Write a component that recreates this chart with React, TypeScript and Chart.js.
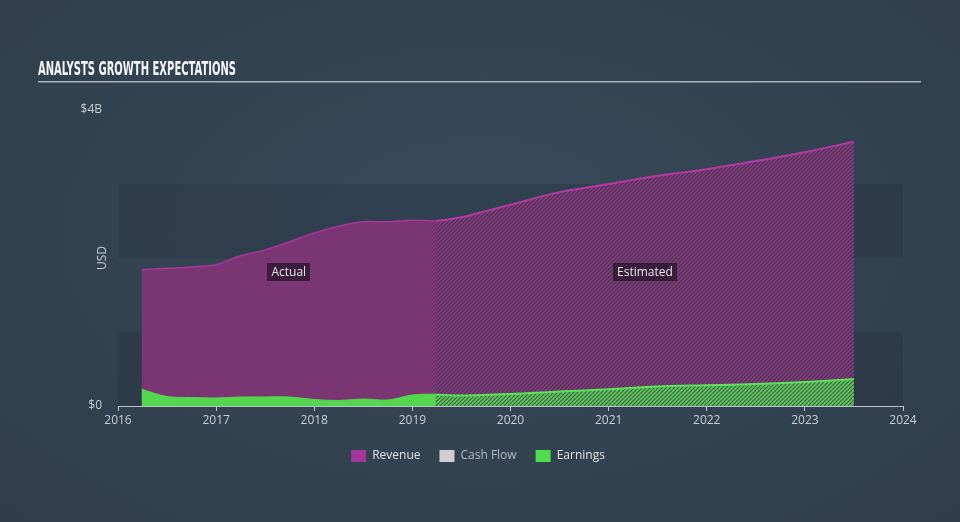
import { useEffect, useRef } from 'react';
import { Chart, registerables } from 'chart.js';

Chart.register(...registerables);

// ---------- data ----------
const TITLE = 'ANALYSTS GROWTH EXPECTATIONS';
const Y_TITLE = 'USD';
const X_MIN = 2016;
const X_MAX = 2024;
const Y_MIN = 0;
const Y_MAX = 4; // billions
const Y_TICK_VALUES = [0, 4];
const BAND_RANGES = [[0, 1], [2, 3]]; // darker horizontal bands (billions)
const PERIOD_LABELS = ['Actual', 'Estimated'];

// quarter-end dates as decimal years
const actualDates = [2016.24, 2016.5, 2016.75, 2017, 2017.25, 2017.5, 2017.75, 2018, 2018.25, 2018.5, 2018.75, 2019, 2019.24];
const actualRevenue = [1.84, 1.86, 1.88, 1.91, 2.03, 2.11, 2.22, 2.34, 2.43, 2.49, 2.49, 2.51, 2.50];
const actualEarnings = [0.226, 0.128, 0.115, 0.108, 0.122, 0.122, 0.122, 0.088, 0.074, 0.095, 0.081, 0.149, 0.162];

const estimateDates = [2019.24, 2019.5, 2020, 2020.5, 2021, 2021.5, 2022, 2022.5, 2023, 2023.5];
const estimateRevenue = [2.50, 2.55, 2.72, 2.89, 3.00, 3.11, 3.20, 3.31, 3.43, 3.57];
const estimateEarnings = [0.155, 0.142, 0.162, 0.196, 0.226, 0.264, 0.28, 0.297, 0.324, 0.365];

const legendNames = ['Revenue', 'Cash Flow', 'Earnings'];
const legendColors = ['#a3379a', '#cfcfcf', '#50dd4d'];
const legendTextColors = ['#dfe3e7', '#b3bac1', '#dfe3e7'];

// ---------- helpers ----------
const pts = (xs: number[], ys: number[]) => xs.map((x, i) => ({ x, y: ys[i] }));

function makeHatch(base: string, stripe: string, size = 4, width = 1.6) {
  const c = document.createElement('canvas');
  c.width = size;
  c.height = size;
  const g = c.getContext('2d')!;
  g.fillStyle = base;
  g.fillRect(0, 0, size, size);
  g.strokeStyle = stripe;
  g.lineWidth = width;
  g.beginPath();
  g.moveTo(0, size);
  g.lineTo(size, 0);
  g.moveTo(-1, 1);
  g.lineTo(1, -1);
  g.moveTo(size - 1, size + 1);
  g.lineTo(size + 1, size - 1);
  g.stroke();
  return g.createPattern(c, 'repeat')!;
}

const FONT = '"Open Sans", "DejaVu Sans", sans-serif';

const decorPlugin = {
  id: 'decor',
  beforeDraw(chart: any) {
    const { ctx, chartArea, scales } = chart;
    const y = scales.y;
    ctx.save();
    // bands
    ctx.fillStyle = 'rgba(20, 30, 40, 0.15)';
    BAND_RANGES.forEach(([a, b]) => {
      const top = y.getPixelForValue(b);
      const bot = y.getPixelForValue(a);
      ctx.fillRect(chartArea.left, top, chartArea.right - chartArea.left, bot - top);
    });
    // title
    ctx.fillStyle = '#f2f4f6';
    ctx.font = 'bold 20px "DejaVu Sans Condensed", "DejaVu Sans", sans-serif';
    ctx.textBaseline = 'alphabetic';
    ctx.textAlign = 'left';
    const w = ctx.measureText(TITLE).width;
    ctx.save();
    ctx.translate(38, 75);
    ctx.scale(198 / w, 1);
    ctx.fillText(TITLE, 0, 0);
    ctx.restore();
    // underline
    ctx.fillStyle = '#a9b3bc';
    ctx.fillRect(38, 81, 883, 1.5);
    // y title
    ctx.save();
    ctx.translate(103, (chartArea.top + chartArea.bottom) / 2);
    ctx.rotate(-Math.PI / 2);
    ctx.fillStyle = '#c6ccd2';
    ctx.font = `12px ${FONT}`;
    ctx.textAlign = 'center';
    ctx.textBaseline = 'middle';
    ctx.fillText(Y_TITLE, 0, 0);
    ctx.restore();
    ctx.restore();
  },
  afterDatasetsDraw(chart: any) {
    const { ctx, scales } = chart;
    const xs = scales.x;
    const ys = scales.y;
    const ranges = [
      [actualDates[0], actualDates[actualDates.length - 1]],
      [estimateDates[0], estimateDates[estimateDates.length - 1]],
    ];
    ctx.save();
    ctx.font = `12px ${FONT}`;
    ctx.textAlign = 'center';
    ctx.textBaseline = 'middle';
    PERIOD_LABELS.forEach((label, i) => {
      const cx = (xs.getPixelForValue(ranges[i][0]) + xs.getPixelForValue(ranges[i][1])) / 2;
      const cy = ys.getPixelForValue(1.81);
      const tw = ctx.measureText(label).width;
      ctx.fillStyle = 'rgba(22, 16, 28, 0.62)';
      ctx.fillRect(Math.round(cx - tw / 2 - 4), Math.round(cy - 9), Math.round(tw + 8), 18);
      ctx.fillStyle = '#e6e6ea';
      ctx.fillText(label, cx, cy + 0.5);
    });
    ctx.restore();
  },
  afterDraw(chart: any) {
    const { ctx } = chart;
    ctx.save();
    ctx.font = `12px ${FONT}`;
    ctx.textBaseline = 'middle';
    ctx.textAlign = 'left';
    const box = 15;
    const gap = 6;
    const between = 19;
    const widths = legendNames.map((n) => ctx.measureText(n).width);
    const total = widths.reduce((s, w) => s + box + gap + w, 0) + between * (legendNames.length - 1);
    let x = 478 - total / 2;
    const cy = 456;
    legendNames.forEach((n, i) => {
      ctx.fillStyle = legendColors[i];
      ctx.fillRect(x, cy - 6, box, 12);
      ctx.fillStyle = legendTextColors[i];
      ctx.fillText(n, x + box + gap, cy);
      x += box + gap + widths[i] + between;
    });
    ctx.restore();
  },
};

export default function App() {
  const ref = useRef<HTMLCanvasElement | null>(null);

  useEffect(() => {
    const canvas = ref.current;
    if (!canvas) return;
    const revenueHatch = makeHatch('#3e3349', '#8e3b86');
    const earningsHatch = makeHatch('#3f5a4b', '#5fcf59');

    const chart = new Chart(canvas, {
      type: 'line',
      data: {
        datasets: [
          {
            label: 'Earnings (estimate)',
            data: pts(estimateDates, estimateEarnings),
            fill: 'origin',
            backgroundColor: earningsHatch,
            borderColor: '#5be257',
            borderWidth: 2,
            pointRadius: 0,
            tension: 0.3,
          },
          {
            label: 'Earnings',
            data: pts(actualDates, actualEarnings),
            fill: 'origin',
            backgroundColor: '#55d64f',
            borderColor: '#55d64f',
            borderWidth: 1,
            pointRadius: 0,
            tension: 0.35,
          },
          {
            label: 'Revenue (estimate)',
            data: pts(estimateDates, estimateRevenue),
            fill: 'origin',
            backgroundColor: revenueHatch,
            borderColor: '#b33aa3',
            borderWidth: 2,
            pointRadius: 0,
            tension: 0.3,
          },
          {
            label: 'Revenue',
            data: pts(actualDates, actualRevenue),
            fill: 'origin',
            backgroundColor: '#7a3672',
            borderColor: '#a8379c',
            borderWidth: 1.5,
            pointRadius: 0,
            tension: 0.3,
          },
        ],
      },
      options: {
        responsive: false,
        animation: false,
        devicePixelRatio: 1,
        layout: { padding: { top: 110, right: 57, bottom: 0, left: 0 } },
        plugins: {
          legend: { display: false },
          tooltip: { enabled: false },
          title: { display: false },
        },
        scales: {
          x: {
            type: 'linear',
            min: X_MIN,
            max: X_MAX,
            afterFit: (s: any) => { s.height = 116; },
            border: { display: true, color: '#b9c2cb', width: 1 },
            grid: { drawOnChartArea: false, drawTicks: true, tickLength: 5, color: '#b9c2cb' },
            ticks: {
              stepSize: 1,
              padding: 2,
              color: '#c9cfd5',
              font: { family: FONT, size: 12 },
              maxRotation: 0,
              callback: (v: any) => String(v),
            },
          },
          y: {
            type: 'linear',
            min: Y_MIN,
            max: Y_MAX,
            afterFit: (s: any) => { s.width = 118; },
            afterBuildTicks: (s: any) => { s.ticks = Y_TICK_VALUES.map((v) => ({ value: v })); },
            border: { display: false },
            grid: { display: false, drawTicks: false },
            ticks: {
              padding: 16,
              color: '#c9cfd5',
              font: { family: FONT, size: 12 },
              callback: (v: any) => (Number(v) === 0 ? '$0' : `$${v}B`),
            },
          },
        },
      },
      plugins: [decorPlugin],
    } as any);
    return () => chart.destroy();
  }, []);

  return (
    <div
      style={{
        position: 'fixed',
        left: 0,
        top: 0,
        width: 960,
        height: 522,
        background: 'radial-gradient(ellipse at 50% 45%, #37495a 0%, #334250 60%, #2f3d4a 100%)',
      }}
    >
      <canvas ref={ref} width={960} height={522} style={{ display: 'block' }} />
    </div>
  );
}
